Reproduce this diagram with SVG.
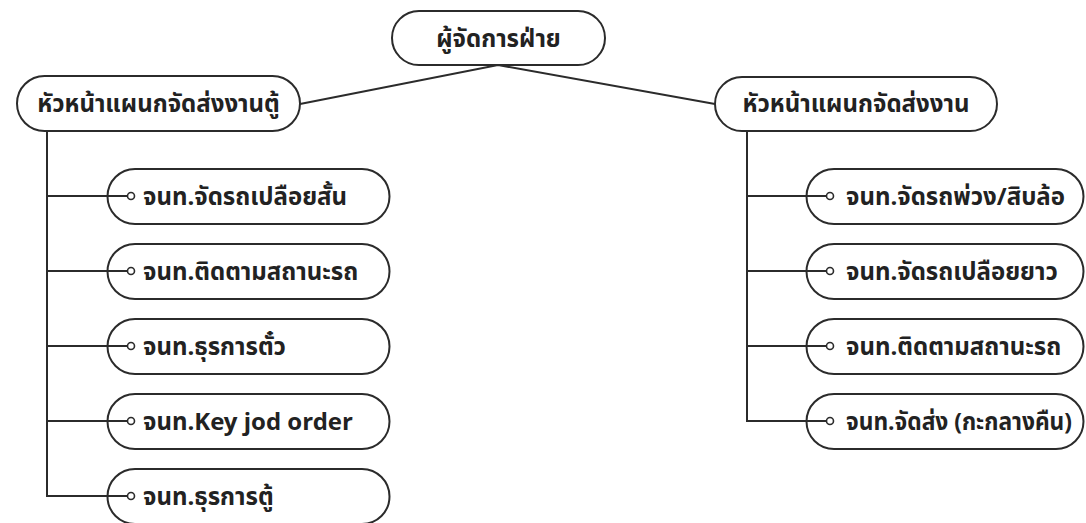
<svg xmlns="http://www.w3.org/2000/svg" width="1086" height="523" viewBox="0 0 1086 523">
<style>
.box{fill:#fff;stroke:#2b2b2b;stroke-width:2}
.lbl{font-family:"Noto Sans Thai","Noto Sans","Liberation Sans",sans-serif;font-weight:bold;font-size:24px;fill:#222}
.mid{text-anchor:middle}
.ln{fill:none;stroke:#2b2b2b;stroke-width:2}
.br{marker-end:url(#dot)}
</style>
<defs>
<marker id="dot" markerUnits="userSpaceOnUse" viewBox="-6 -6 12 12" markerWidth="12" markerHeight="12" refX="0" refY="0" orient="auto">
<circle cx="0" cy="0" r="3.5" fill="#fff" stroke="#2b2b2b" stroke-width="1.6"/>
</marker>
</defs>
<rect width="1086" height="523" fill="#fff"/>
<g id="n0"><rect class="box" x="392" y="11" width="213" height="54" rx="27"/><text class="lbl mid" x="498.5" y="47">ผู้จัดการฝ่าย</text></g>
<g id="n1"><rect class="box" x="17" y="76" width="283" height="55" rx="27.5"/><text class="lbl mid" x="158.5" y="112">หัวหน้าแผนกจัดส่งงานตู้</text></g>
<g id="n2"><rect class="box" x="715" y="77" width="282" height="54" rx="27"/><text class="lbl mid" x="856" y="112">หัวหน้าแผนกจัดส่งงาน</text></g>
<g id="l1"><path class="box" d="M135,169 H362 A27.5,27.5 0 0 1 362,224 H135 A27.5,27.5 0 0 1 135,169 Z"/><text class="lbl" x="143" y="205">จนท.จัดรถเปลือยสั้น</text></g>
<g id="l2"><path class="box" d="M135,244 H362 A27.5,27.5 0 0 1 362,299 H135 A27.5,27.5 0 0 1 135,244 Z"/><text class="lbl" x="143" y="280">จนท.ติดตามสถานะรถ</text></g>
<g id="l3"><path class="box" d="M135,319 H362 A27.5,27.5 0 0 1 362,374 H135 A27.5,27.5 0 0 1 135,319 Z"/><text class="lbl" x="143" y="355">จนท.ธุรการตั๋ว</text></g>
<g id="l4"><path class="box" d="M135,394 H362 A27.5,27.5 0 0 1 362,449 H135 A27.5,27.5 0 0 1 135,394 Z"/><text class="lbl" x="143" y="430">จนท.Key jod order</text></g>
<g id="l5"><path class="box" d="M135,469 H362 A27.5,27.5 0 0 1 362,524 H135 A27.5,27.5 0 0 1 135,469 Z"/><text class="lbl" x="143" y="505">จนท.ธุรการตู้</text></g>
<g id="r1"><path class="box" d="M834,169 H1056 A27.5,27.5 0 0 1 1056,224 H834 A27.5,27.5 0 0 1 834,169 Z"/><text class="lbl" x="846" y="205">จนท.จัดรถพ่วง/สิบล้อ</text></g>
<g id="r2"><path class="box" d="M834,244 H1056 A27.5,27.5 0 0 1 1056,299 H834 A27.5,27.5 0 0 1 834,244 Z"/><text class="lbl" x="846" y="280">จนท.จัดรถเปลือยยาว</text></g>
<g id="r3"><path class="box" d="M834,319 H1056 A27.5,27.5 0 0 1 1056,374 H834 A27.5,27.5 0 0 1 834,319 Z"/><text class="lbl" x="846" y="355">จนท.ติดตามสถานะรถ</text></g>
<g id="r4"><path class="box" d="M834,394 H1056 A27.5,27.5 0 0 1 1056,449 H834 A27.5,27.5 0 0 1 834,394 Z"/><text class="lbl" x="846" y="430" textLength="226" lengthAdjust="spacingAndGlyphs">จนท.จัดส่ง (กะกลางคืน)</text></g>
<g id="connectors">
<polyline class="ln" points="300,104 498,65 715,104"/>
<polyline class="ln br" points="47,131 47,496 131,496"/>
<line class="ln br" x1="47" y1="196" x2="131" y2="196"/>
<line class="ln br" x1="47" y1="271" x2="131" y2="271"/>
<line class="ln br" x1="47" y1="346" x2="131" y2="346"/>
<line class="ln br" x1="47" y1="421" x2="131" y2="421"/>
<polyline class="ln br" points="747,131 747,421 830,421"/>
<line class="ln br" x1="747" y1="196" x2="830" y2="196"/>
<line class="ln br" x1="747" y1="271" x2="830" y2="271"/>
<line class="ln br" x1="747" y1="346" x2="830" y2="346"/>
</g>
</svg>
